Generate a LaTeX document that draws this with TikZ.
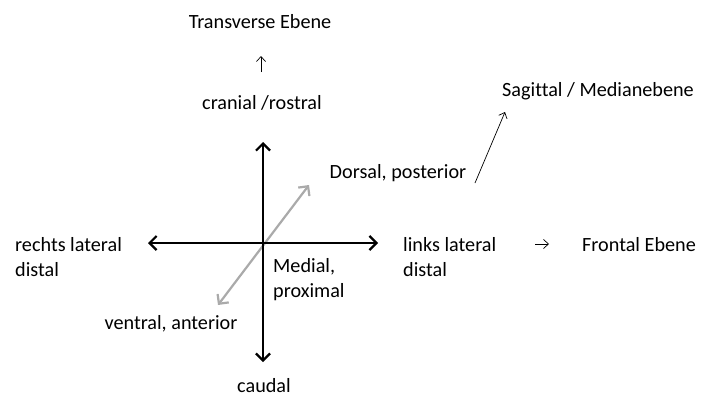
\documentclass[tikz,border=0pt]{standalone}
\usepackage{fontspec}
\setmainfont[Ligatures=NoCommon]{Carlito}
\usetikzlibrary{arrows.meta}
\definecolor{axisgray}{RGB}{170,170,170}

\begin{document}
\begin{tikzpicture}[x=1pt,y=-1pt,
    lbl/.style={inner sep=0pt,font=\fontsize{20.2}{25}\selectfont},
    axisline/.style={line width=2.2pt,{Straight Barb[length=7pt,width=14pt]}-{Straight Barb[length=7pt,width=14pt]}},
    hint/.style={line width=0.7pt,-{Straight Barb[length=5pt,width=9pt]}}]
    \useasboundingbox (0,0) rectangle (720,407);
    % Axes
    \coordinate (up) at (263,142);
    \coordinate (down) at (263,362);
    \coordinate (left) at (148,243);
    \coordinate (right) at (378,243);
    \coordinate (back) at (309,185);
    \coordinate (front) at (218,305);
    \draw[axisline,axisgray] (front) -- (back);
    \draw[axisline] (up) -- (down);
    \draw[axisline] (left) -- (right);
    % Labels
    \node[lbl] (transverse) at (260,22) {Transverse Ebene};
    \node[lbl] (cranial) at (262,103) {cranial /rostral};
    \node[lbl] (sagittal) at (598,91) {Sagittal / Medianebene};
    \node[lbl] (dorsal) at (398,173) {Dorsal, posterior};
    \node[lbl,align=left,anchor=west] (rechts) at (15,257) {rechts lateral\\distal};
    \node[lbl,align=left,anchor=west] (links) at (403,257) {links lateral\\distal};
    \node[lbl,anchor=west] (frontal) at (582,245) {Frontal Ebene};
    \node[lbl,align=left,anchor=west] (medial) at (273,280) {Medial,\\proximal};
    \node[lbl] (ventral) at (171,324) {ventral, anterior};
    \node[lbl] (caudal) at (264,386) {caudal};
    % Plane hints
    \coordinate (tstart) at (261,72);
    \coordinate (tend) at (261,56);
    \coordinate (fstart) at (535,244);
    \coordinate (fend) at (549,244);
    \coordinate (sstart) at (475,183);
    \coordinate (send) at (505,112);
    \draw[hint] (tstart) -- (tend);
    \draw[hint] (fstart) -- (fend);
    \draw[hint] (sstart) -- (send);
\end{tikzpicture}
\end{document}
